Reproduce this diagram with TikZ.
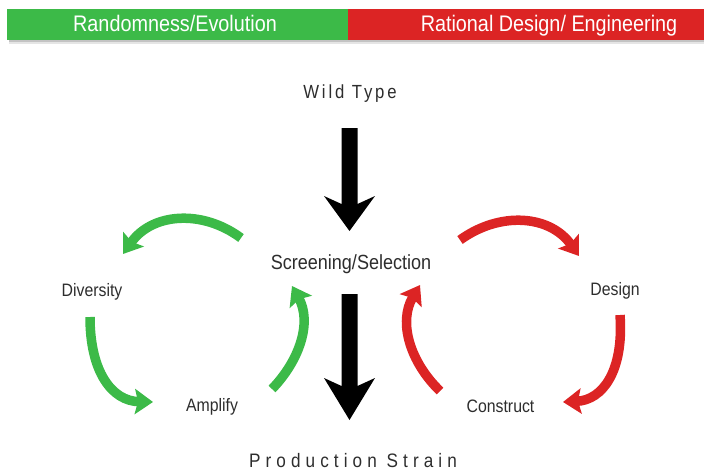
\documentclass[tikz,border=0pt]{standalone}
\usepackage{fontspec}
\setmainfont{Liberation Sans}[FakeStretch=0.88]
\newfontfamily\spacedA{Liberation Sans}[FakeStretch=0.88,LetterSpace=15]
\newfontfamily\spacedB{Liberation Sans}[FakeStretch=0.88,LetterSpace=26]
\usetikzlibrary{arrows.meta}
\definecolor{grn}{RGB}{60,186,72}
\definecolor{rd}{RGB}{220,36,36}
\definecolor{txt}{RGB}{45,45,45}
\begin{document}
\begin{tikzpicture}[x=1pt,y=-1pt,
  lbl/.style={anchor=base,inner sep=0pt,text=txt,font=\fontsize{18}{20}\selectfont},
  bartext/.style={anchor=base,inner sep=0pt,text=white,font=\fontsize{22.5}{24}\selectfont},
  cyc/.style={line width=9.5pt,-{Stealth[length=18pt,width=25pt,inset=3pt]}},
  bigarrow/.style={fill=black}]
\useasboundingbox (0,0) rectangle (704,471);
% header bar with shadow
\fill[black,opacity=0.10] (9,39) rectangle (704,44);
\fill[black,opacity=0.15] (9,39) rectangle (704,42);
\fill[grn] (7,9) rectangle (348,40);
\fill[rd] (348,9) rectangle (704,40);
\node[bartext] (hl) at (175,31.7) {Randomness/Evolution};
\node[bartext] (hr) at (549,31.7) {Rational Design/ Engineering};
% labels
\node[lbl,font=\spacedA\fontsize{19}{21}\selectfont] (wt) at (350,98.3) {Wild Type};
\node[lbl,font=\fontsize{20.5}{22}\selectfont] (ss) at (351,269.3) {Screening/Selection};
\node[lbl,font=\spacedB\fontsize{19.5}{21}\selectfont] (ps) at (353,467.3) {Production Strain};
\node[lbl] (div) at (92,296.5) {Diversity};
\node[lbl] (amp) at (212,411.7) {Amplify};
\node[lbl] (con) at (500.5,412.7) {Construct};
\node[lbl] (des) at (615,295) {Design};
% big black arrows
\fill[bigarrow] (341.5,128) -- (357.5,128) -- (357.5,204) -- (375,196) -- (349.5,231)
  -- (324,196) -- (341.5,204) -- cycle;
\fill[bigarrow] (341.5,294) -- (357.5,294) -- (357.5,386) -- (375,378) -- (349.5,420)
  -- (324,378) -- (341.5,386) -- cycle;
% cycle arrow end points
\coordinate (g1a) at (241,238);
\coordinate (g1b) at (123,254);
\coordinate (g2a) at (90,317);
\coordinate (g2b) at (153,402);
\coordinate (g3a) at (272,389);
\coordinate (g3b) at (292,286);
\coordinate (r1a) at (460,240);
\coordinate (r1b) at (579,256);
\coordinate (r2a) at (620,315);
\coordinate (r2b) at (563,402);
\coordinate (r3a) at (440,391);
\coordinate (r3b) at (420,285);
% green cycle
\draw[cyc,grn] (g1a) .. controls (202,209) and (152,213) .. (g1b);
\draw[cyc,grn] (g2a) .. controls (90,372) and (112,401) .. (g2b);
\draw[cyc,grn] (g3a) .. controls (300,360) and (312,322) .. (g3b);
% red cycle
\draw[cyc,rd] (r1a) .. controls (500,211) and (550,215) .. (r1b);
\draw[cyc,rd] (r2a) .. controls (624,372) and (602,400) .. (r2b);
\draw[cyc,rd] (r3a) .. controls (410,362) and (398,322) .. (r3b);
\end{tikzpicture}
\end{document}
